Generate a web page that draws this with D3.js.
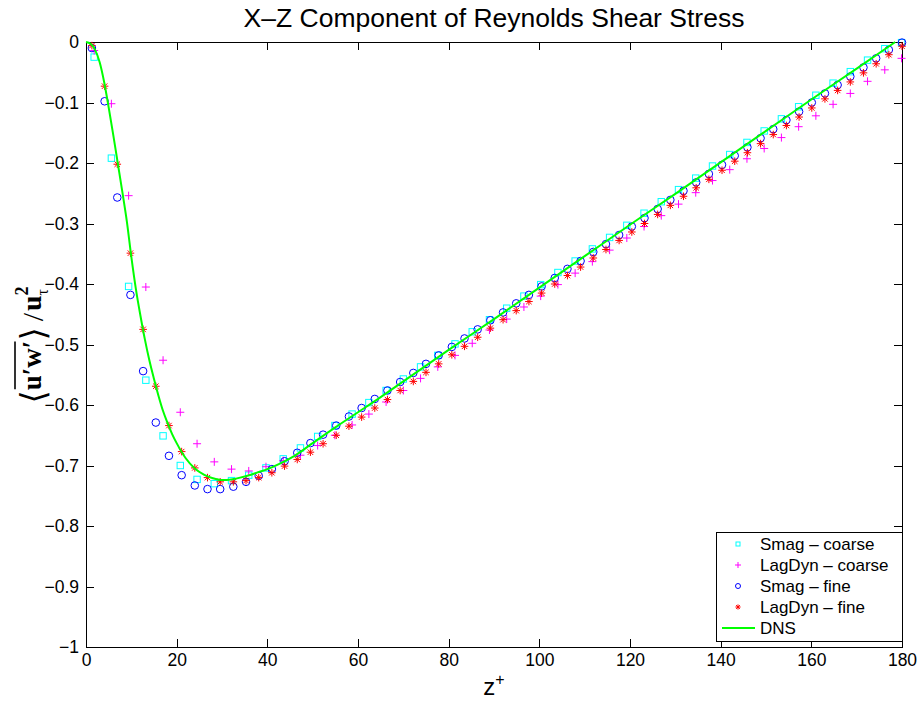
<!DOCTYPE html>
<html>
<head>
<meta charset="utf-8">
<script src="https://cdn.jsdelivr.net/npm/d3@7"></script>
<style>
  body { margin: 0; background: #fff; }
  text { font-family: "Liberation Sans", Arial, Helvetica, sans-serif; fill: #000; }
  .serif text { font-family: "Liberation Serif", "DejaVu Serif", serif; }
</style>
</head>
<body>
<div id="chart"></div>
<script>
// ---- data ----
// fine grid (Smag - fine, LagDyn - fine)
var fineZ = [1.3, 4.1, 6.9, 9.8, 12.6, 15.4, 18.3, 21.1, 24.0, 26.8, 29.6, 32.5, 35.3, 38.1, 41.0, 43.8,
  46.6, 49.5, 52.3, 55.2, 58.0, 60.8, 63.7, 66.5, 69.3, 72.2, 75.0, 77.8, 80.7, 83.5, 86.4, 89.2,
  92.0, 94.9, 97.7, 100.5, 103.4, 106.2, 109.1, 111.9, 114.7, 117.6, 120.4, 123.2, 126.1, 128.9, 131.8, 134.6,
  137.4, 140.3, 143.1, 145.9, 148.8, 151.6, 154.5, 157.3, 160.1, 163.0, 165.8, 168.6, 171.5, 174.3, 177.1, 180.0];
var smagFine = [-0.010, -0.098, -0.257, -0.418, -0.544, -0.629, -0.684, -0.716, -0.733, -0.739, -0.739, -0.735, -0.727, -0.717, -0.706, -0.693,
  -0.679, -0.663, -0.649, -0.634, -0.619, -0.605, -0.590, -0.576, -0.562, -0.547, -0.532, -0.518, -0.504, -0.490, -0.475, -0.460,
  -0.447, -0.432, -0.418, -0.404, -0.390, -0.375, -0.362, -0.347, -0.334, -0.319, -0.305, -0.291, -0.276, -0.261, -0.246, -0.232,
  -0.218, -0.203, -0.188, -0.174, -0.159, -0.144, -0.129, -0.115, -0.100, -0.085, -0.071, -0.057, -0.042, -0.027, -0.013, -0.001];
var lagDynFine = [-0.006, -0.073, -0.202, -0.349, -0.475, -0.569, -0.634, -0.677, -0.704, -0.720, -0.727, -0.727, -0.725, -0.720, -0.712, -0.701,
  -0.690, -0.678, -0.664, -0.650, -0.635, -0.620, -0.605, -0.591, -0.576, -0.561, -0.546, -0.532, -0.517, -0.503, -0.488, -0.473,
  -0.459, -0.444, -0.429, -0.415, -0.400, -0.386, -0.372, -0.357, -0.343, -0.328, -0.314, -0.300, -0.285, -0.270, -0.255, -0.241,
  -0.227, -0.212, -0.197, -0.183, -0.168, -0.153, -0.138, -0.124, -0.109, -0.094, -0.080, -0.066, -0.051, -0.036, -0.021, -0.007];

// coarse grid (Smag - coarse, LagDyn - coarse)
var coarseZ = [1.8, 5.6, 9.4, 13.2, 17.0, 20.8, 24.5, 28.3, 32.1, 35.9, 39.7, 43.5,
  47.3, 51.1, 54.9, 58.7, 62.4, 66.2, 70.0, 73.8, 77.6, 81.4, 85.2, 89.0,
  92.8, 96.6, 100.3, 104.1, 107.9, 111.7, 115.5, 119.3, 123.1, 126.9, 130.7, 134.5,
  138.2, 142.0, 145.8, 149.6, 153.4, 157.2, 161.0, 164.8, 168.6, 172.4, 176.2, 179.9];
var smagCoarse = [-0.025, -0.192, -0.404, -0.559, -0.651, -0.700, -0.723, -0.730, -0.725, -0.716, -0.704, -0.689,
  -0.671, -0.652, -0.634, -0.615, -0.596, -0.576, -0.557, -0.537, -0.518, -0.499, -0.479, -0.459,
  -0.440, -0.420, -0.401, -0.381, -0.362, -0.342, -0.323, -0.303, -0.283, -0.264, -0.244, -0.225,
  -0.205, -0.186, -0.166, -0.147, -0.127, -0.107, -0.088, -0.068, -0.049, -0.030, -0.011, -0.001];
var lagDynCoarse = [-0.014, -0.102, -0.254, -0.405, -0.526, -0.612, -0.664, -0.694, -0.706, -0.709, -0.702, -0.692,
  -0.683, -0.667, -0.650, -0.633, -0.615, -0.595, -0.576, -0.556, -0.537, -0.518, -0.498, -0.476,
  -0.458, -0.438, -0.420, -0.401, -0.382, -0.363, -0.344, -0.324, -0.305, -0.287, -0.268, -0.249,
  -0.229, -0.211, -0.193, -0.176, -0.158, -0.140, -0.122, -0.103, -0.085, -0.065, -0.046, -0.027];

// DNS reference curve
var dnsZ = [0, 1, 2, 3, 4, 5, 6, 7, 8, 9, 10, 11, 12, 13, 14, 15, 16, 17, 18, 19, 20, 22, 24, 26, 28, 30,
  32, 34, 36, 38, 40, 43, 46, 50, 55, 60, 65, 70, 80, 90, 100, 110, 120, 130, 140, 150, 160, 170, 178.5];
var dnsStress = [0, -0.003, -0.013, -0.033, -0.066, -0.108, -0.153, -0.200, -0.247, -0.296, -0.355, -0.408, -0.452,
  -0.492, -0.527, -0.557, -0.585, -0.610, -0.630, -0.648, -0.663, -0.688, -0.705, -0.715, -0.721, -0.724,
  -0.723, -0.720, -0.716, -0.711, -0.706, -0.696, -0.684, -0.663, -0.637, -0.612, -0.587, -0.561,
  -0.509, -0.458, -0.406, -0.354, -0.302, -0.251, -0.199, -0.147, -0.095, -0.044, 0];

var xTicks = [0, 20, 40, 60, 80, 100, 120, 140, 160, 180];
var yTicks = [0, -0.1, -0.2, -0.3, -0.4, -0.5, -0.6, -0.7, -0.8, -0.9, -1];
var seriesNames = ["Smag \u2013 coarse", "LagDyn \u2013 coarse", "Smag \u2013 fine", "LagDyn \u2013 fine", "DNS"];

// ---- layout ----
var margin = {top: 42, right: 20, bottom: 55, left: 86},
    width = 922 - margin.left - margin.right,
    height = 702 - margin.top - margin.bottom;

var root = d3.select("#chart").append("svg")
    .attr("width", 922)
    .attr("height", 702);

var svg = root.append("g")
    .attr("transform", "translate(" + margin.left + "," + margin.top + ")");

var xScale = d3.scaleLinear().domain([0, 180]).range([0, width]);
var yScale = d3.scaleLinear().domain([-1, 0]).range([height, 0]);

var fmt = function(d) { return d3.format("~g")(d); };

// axes, ticks pointing inwards on all four sides
var gx = svg.append("g")
    .attr("transform", "translate(0," + height + ")")
    .call(d3.axisBottom(xScale).tickValues(xTicks).tickSizeInner(-8).tickSizeOuter(0).tickPadding(7).tickFormat(fmt));
var gxTop = svg.append("g")
    .call(d3.axisTop(xScale).tickValues(xTicks).tickSizeInner(-8).tickSizeOuter(0).tickFormat(""));
var gy = svg.append("g")
    .call(d3.axisLeft(yScale).tickValues(yTicks).tickSizeInner(-8).tickSizeOuter(0).tickPadding(7).tickFormat(fmt));
var gyRight = svg.append("g")
    .attr("transform", "translate(" + width + ",0)")
    .call(d3.axisRight(yScale).tickValues(yTicks).tickSizeInner(-8).tickSizeOuter(0).tickFormat(""));

[gx, gxTop, gy, gyRight].forEach(function(g) {
  g.select(".domain").remove();
  g.selectAll("line").attr("stroke", "#000").attr("shape-rendering", "crispEdges");
  g.selectAll("text").style("font-size", "17.5px").attr("fill", "#000");
});

svg.append("rect")
    .attr("width", width)
    .attr("height", height)
    .attr("fill", "none")
    .attr("stroke", "#000")
    .attr("shape-rendering", "crispEdges");

// ---- marker shapes ----
function drawMarker(sel, type, s) {
  if (type == "square") {
    sel.append("rect").attr("x", -s).attr("y", -s).attr("width", 2 * s).attr("height", 2 * s)
      .attr("fill", "none").attr("stroke", "#00ffff");
  } else if (type == "plus") {
    sel.append("path").attr("d", "M" + (-s) + ",0H" + s + "M0," + (-s) + "V" + s)
      .attr("stroke", "#ff00ff").attr("fill", "none");
  } else if (type == "circle") {
    sel.append("circle").attr("r", s).attr("fill", "none").attr("stroke", "#0000ff");
  } else if (type == "star") {
    var t = s * 0.72;
    sel.append("path")
      .attr("d", "M" + (-s) + ",0H" + s + "M0," + (-s) + "V" + s +
                 "M" + (-t) + "," + (-t) + "L" + t + "," + t + "M" + (-t) + "," + t + "L" + t + "," + (-t))
      .attr("stroke", "#ff0000").attr("fill", "none");
  }
}

var series = [
  {z: coarseZ, v: smagCoarse, type: "square", size: 3.2},
  {z: coarseZ, v: lagDynCoarse, type: "plus", size: 4},
  {z: fineZ, v: smagFine, type: "circle", size: 3.8},
  {z: fineZ, v: lagDynFine, type: "star", size: 3.8}
];

series.forEach(function(s) {
  var pts = s.z.map(function(z, i) { return {z: z, v: s.v[i]}; });
  svg.append("g").selectAll(".pt")
      .data(pts)
      .enter().append("g")
      .attr("class", "pt")
      .attr("transform", function(d) { return "translate(" + xScale(d.z) + "," + yScale(d.v) + ")"; })
      .each(function() { drawMarker(d3.select(this), s.type, s.size); });
});

// DNS line
var dnsPts = dnsZ.map(function(z, i) { return {z: z, v: dnsStress[i]}; });
var line = d3.line()
    .x(function(d) { return xScale(d.z); })
    .y(function(d) { return yScale(d.v); })
    .curve(d3.curveMonotoneX);

svg.append("path")
    .datum(dnsPts)
    .attr("d", line)
    .attr("fill", "none")
    .attr("stroke", "#00ff00")
    .attr("stroke-width", 2);

// ---- legend ----
var legend = svg.append("g")
    .attr("transform", "translate(" + (716 - margin.left) + "," + (532 - margin.top) + ")");
legend.append("rect")
    .attr("width", 186)
    .attr("height", 109)
    .attr("fill", "#fff")
    .attr("stroke", "#000")
    .attr("shape-rendering", "crispEdges");

var legendTypes = ["square", "plus", "circle", "star", "line"];
var legendSizes = [2, 3, 2.5, 2.6, 0];
var row = legend.selectAll(".legend")
    .data(seriesNames)
    .enter().append("g")
    .attr("class", "legend")
    .attr("transform", function(d, i) { return "translate(0," + (12 + i * 21) + ")"; });

row.each(function(d, i) {
  var g = d3.select(this);
  if (legendTypes[i] == "line") {
    g.append("line").attr("x1", 6).attr("x2", 39).attr("stroke", "#00ff00").attr("stroke-width", 2);
  } else {
    var m = g.append("g").attr("transform", "translate(22,0)");
    drawMarker(m, legendTypes[i], legendSizes[i]);
  }
});

row.append("text")
    .attr("x", 44)
    .attr("dy", "0.36em")
    .style("font-size", "17px")
    .text(function(d) { return d; });

// ---- titles ----
root.append("text")
    .attr("x", margin.left + width / 2)
    .attr("y", 27)
    .attr("text-anchor", "middle")
    .style("font-size", "26.5px")
    .text("X\u2013Z Component of Reynolds Shear Stress");

var xl = root.append("text")
    .attr("x", margin.left + width / 2)
    .attr("y", 695)
    .attr("text-anchor", "middle")
    .style("font-size", "24px");
xl.append("tspan").text("z");
xl.append("tspan").attr("dy", -10).style("font-size", "16px").text("+");

// y label: <u'w'> / u_tau^2, laid out piece by piece
var ylab = root.append("g")
    .attr("class", "serif")
    .attr("transform", "translate(41,345) rotate(-90)");
var inner = ylab.append("g");
var cursor = 0;
function piece(str, size, dy, weight, advance) {
  var t = inner.append("text")
      .attr("x", cursor)
      .attr("y", dy)
      .style("font-size", size + "px")
      .style("font-weight", weight)
      .text(str);
  var w = t.node().getComputedTextLength();
  if (advance) cursor += w;
  return w;
}
piece("\u27E8", 34, 4, "normal", true);
var ovStart = cursor + 1;
piece("u\u2032w\u2032", 27, 0, "bold", true);
inner.append("line")
    .attr("x1", ovStart).attr("x2", cursor - 1)
    .attr("y1", -26).attr("y2", -26)
    .attr("stroke", "#000").attr("stroke-width", 1.6);
piece("\u27E9", 34, 4, "normal", true);
cursor += 6;
piece("/", 30, 2, "normal", true);
cursor += 2;
piece("u", 28, 0, "bold", true);
var w2 = piece("2", 18, -13, "bold", false);
var wt = piece("\u03C4", 16, 7, "normal", false);
cursor += Math.max(w2, wt);
inner.attr("transform", "translate(" + (-cursor / 2) + ",0)");
</script>
</body>
</html>
